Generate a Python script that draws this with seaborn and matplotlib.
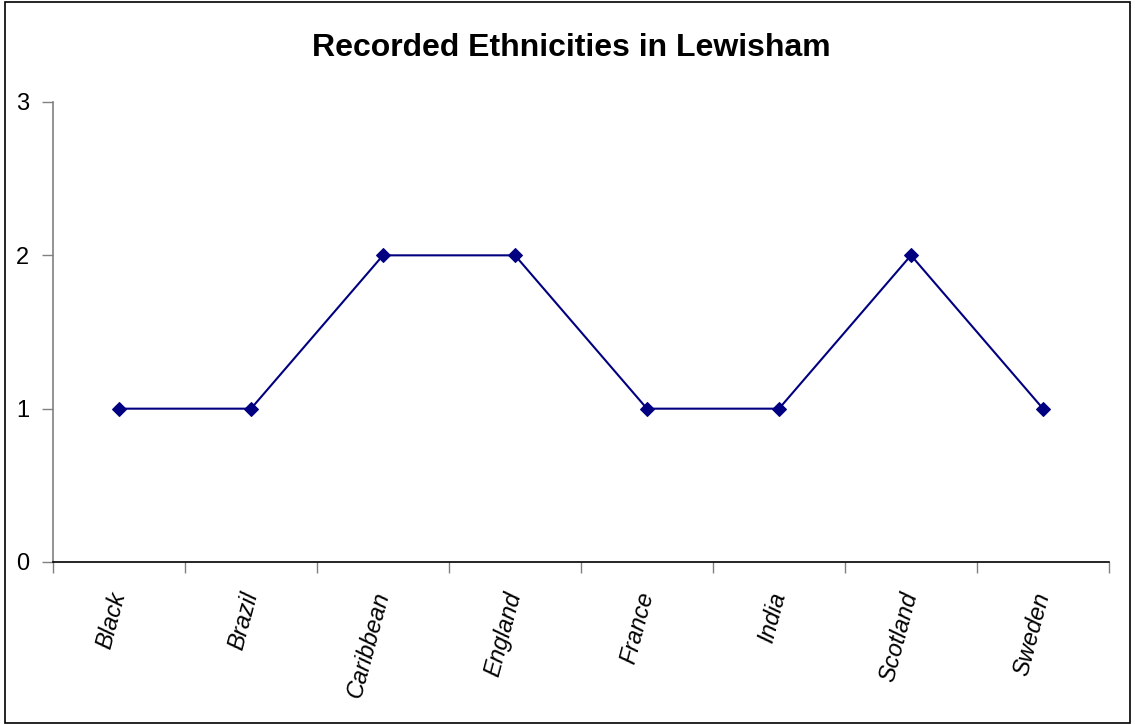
import matplotlib
matplotlib.use("Agg")
import matplotlib.pyplot as plt
import seaborn as sns
import pandas as pd
from matplotlib.patches import Rectangle

# data
countries = ["Black", "Brazil", "Caribbean", "England", "France", "India", "Scotland", "Sweden"]
counts = [1, 1, 2, 2, 1, 1, 2, 1]
y_ticks = [0, 1, 2, 3]

df = pd.DataFrame({"country": countries, "count": counts})

sns.set_style("white")
plt.rcParams["font.family"] = ["Liberation Sans", "DejaVu Sans"]
plt.rcParams["text.color"] = "black"
plt.rcParams["xtick.color"] = "black"
plt.rcParams["ytick.color"] = "black"

fig = plt.figure(figsize=(11.35, 7.25), dpi=100)
ax = fig.add_axes([53 / 1135, 1 - 562 / 725, (1109 - 53) / 1135, (562 - 102) / 725])

sns.lineplot(data=df, x="country", y="count", ax=ax, color="#000080",
             marker="D", markersize=7, markeredgecolor="#000080", linewidth=1.5)

ax.set_xlim(-0.5, len(countries) - 0.5)
ax.set_ylim(0, 3)
ax.set_yticks(y_ticks)
ax.set_xlabel("")
ax.set_ylabel("")

# category labels centred, tick marks between categories
ax.set_xticks(range(len(countries)))
ax.set_xticklabels(countries, rotation=75, ha="right", va="center",
                   rotation_mode="anchor", fontsize=17, style="italic", color="black")
ax.set_xticks([i - 0.5 for i in range(len(countries) + 1)], minor=True)
ax.tick_params(axis="x", which="major", length=0, pad=22)
ax.tick_params(axis="x", which="minor", length=8, width=1, color="#808080", direction="out", bottom=True)
ax.tick_params(axis="y", length=8, width=1, color="#808080", direction="out", left=True,
               labelsize=17, pad=9, labelcolor="black")

for s in ["top", "right"]:
    ax.spines[s].set_visible(False)
ax.spines["left"].set_color("#808080")
ax.spines["left"].set_linewidth(1.2)
ax.spines["bottom"].set_color("black")
ax.spines["bottom"].set_linewidth(1.2)

fig.text(571 / 1135, 1 - 48 / 725, "Recorded Ethnicities in Lewisham",
         ha="center", va="center", fontsize=23, fontweight="bold", color="black")

# outer frame like the chart area border
fig.patches.append(Rectangle((5 / 1135, 2 / 725), 1125 / 1135, 721 / 725,
                             transform=fig.transFigure, fill=False,
                             edgecolor="black", linewidth=1.2))

fig.savefig("out.png", dpi=100)
